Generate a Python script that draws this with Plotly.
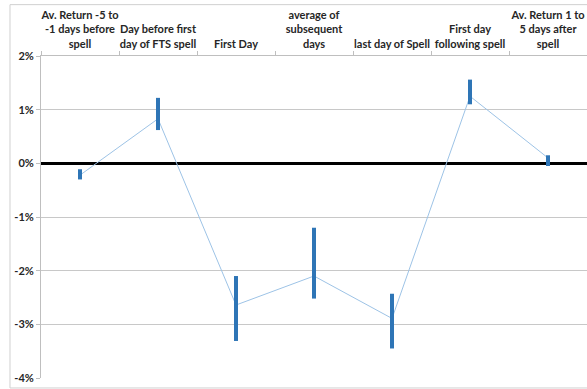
import plotly.graph_objects as go

# Event-window categories
categories = [
    "Av. Return -5 to<br>-1 days before<br>spell",
    "Day before first<br>day of FTS spell",
    "First Day",
    "average of<br>subsequent<br>days",
    "last day of Spell",
    "First day<br>following spell",
    "Av. Return 1 to<br>5 days after<br>spell",
]

# Average return (%) and its high / low range (%)
avg_return = [-0.22, 0.83, -2.64, -2.10, -2.89, 1.25, 0.10]
range_high = [-0.11, 1.22, -2.10, -1.20, -2.43, 1.56, 0.15]
range_low = [-0.30, 0.62, -3.31, -2.52, -3.45, 1.10, -0.05]

y_ticks = [2, 1, 0, -1, -2, -3, -4]
y_tick_text = ["2%", "1%", "0%", "-1%", "-2%", "-3%", "-4%"]

err_plus = [h - m for h, m in zip(range_high, avg_return)]
err_minus = [m - l for m, l in zip(avg_return, range_low)]

LABEL_FONT = dict(family="Lato, sans-serif", size=11, color="#262626", weight="bold")

fig = go.Figure()

fig.add_trace(go.Scatter(
    x=categories,
    y=avg_return,
    mode="lines",
    line=dict(color="#9DC3E6", width=1),
    hoverinfo="skip",
    showlegend=False,
))

fig.add_trace(go.Scatter(
    x=categories,
    y=avg_return,
    mode="markers",
    marker=dict(size=1, opacity=0),
    error_y=dict(
        type="data",
        symmetric=False,
        array=err_plus,
        arrayminus=err_minus,
        color="#2E75B6",
        thickness=4,
        width=0,
    ),
    showlegend=False,
))

# Chart-area border
fig.add_shape(
    type="rect", xref="paper", yref="paper",
    x0=-0.0568, x1=1.05, y0=-0.031, y1=1.1595,
    line=dict(color="#D0D0D0", width=1),
    fillcolor="rgba(0,0,0,0)",
    layer="below",
)

fig.update_layout(
    width=587,
    height=389,
    margin=dict(l=41, r=0, t=56, b=11),
    paper_bgcolor="white",
    plot_bgcolor="white",
    font=LABEL_FONT,
    xaxis=dict(
        type="category",
        side="top",
        tickson="boundaries",
        ticks="outside",
        ticklen=4,
        tickcolor="#BFBFBF",
        tickangle=0,
        ticklabelstandoff=3,
        automargin=False,
        showline=True,
        linecolor="#BFBFBF",
        showgrid=False,
        tickfont=LABEL_FONT,
        range=[-0.5, 6.5],
        fixedrange=True,
    ),
    yaxis=dict(
        range=[-4, 2],
        tickvals=y_ticks,
        ticktext=y_tick_text,
        ticks="outside",
        ticklen=4,
        tickcolor="#BFBFBF",
        automargin=False,
        showline=True,
        linecolor="#BFBFBF",
        showgrid=True,
        gridcolor="#C8C8C8",
        gridwidth=1,
        zeroline=True,
        zerolinecolor="black",
        zerolinewidth=3,
        tickfont=LABEL_FONT,
        fixedrange=True,
    ),
)

fig.write_html("out.html")
